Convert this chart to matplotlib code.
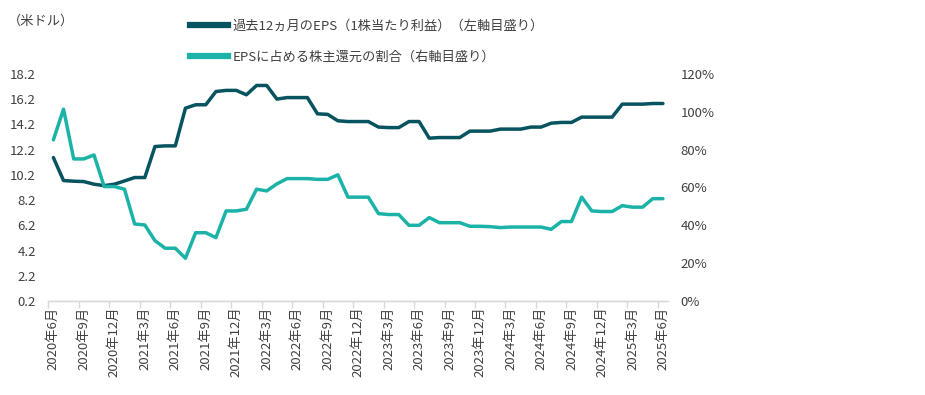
import matplotlib
matplotlib.use('Agg')
import matplotlib.pyplot as plt
from matplotlib.lines import Line2D

plt.rcParams['font.family'] = ['Noto Sans CJK JP', 'DejaVu Sans']

# ---- data (monthly, 2020年6月 .. 2025年6月) ----
n_months = 61
tick_labels = ["2020年6月", "2020年9月", "2020年12月", "2021年3月", "2021年6月", "2021年9月",
               "2021年12月", "2022年3月", "2022年6月", "2022年9月", "2022年12月", "2023年3月",
               "2023年6月", "2023年9月", "2023年12月", "2024年3月", "2024年6月", "2024年9月",
               "2024年12月", "2025年3月", "2025年6月"]

eps = [11.57, 9.75, 9.70, 9.67, 9.46, 9.35, 9.46, 9.72, 9.99, 9.99,
       12.45, 12.50, 12.50, 15.49, 15.76, 15.76, 16.81, 16.90, 16.90, 16.55,
       17.29, 17.29, 16.21, 16.33, 16.33, 16.33, 15.04, 15.00, 14.49, 14.43,
       14.43, 14.43, 13.99, 13.95, 13.95, 14.43, 14.43, 13.11, 13.16, 13.16,
       13.16, 13.67, 13.67, 13.67, 13.83, 13.83, 13.83, 13.99, 13.99, 14.30,
       14.36, 14.36, 14.78, 14.78, 14.78, 14.78, 15.81, 15.81, 15.81, 15.86,
       15.86]

share = [85.2, 101.4, 75.1, 75.1, 77.2, 60.5, 60.5, 59.1, 40.7, 40.2,
         31.9, 27.9, 27.9, 22.6, 36.1, 36.1, 33.5, 47.6, 47.6, 48.5,
         59.1, 58.2, 61.9, 64.7, 64.7, 64.7, 64.3, 64.3, 66.7, 54.9,
         54.9, 54.9, 46.2, 45.7, 45.7, 40.0, 40.0, 44.1, 41.4, 41.4,
         41.4, 39.5, 39.5, 39.3, 38.8, 39.1, 39.1, 39.1, 39.1, 37.9,
         42.0, 42.0, 54.9, 47.6, 47.3, 47.3, 50.4, 49.6, 49.6, 54.1,
         54.1]

left_ticks = [0.2, 2.2, 4.2, 6.2, 8.2, 10.2, 12.2, 14.2, 16.2, 18.2]
right_ticks = [0, 20, 40, 60, 80, 100, 120]

label_eps = "過去12ヵ月のEPS（1株当たり利益）（左軸目盛り）"
label_share = "EPSに占める株主還元の割合（右軸目盛り）"
unit_label = "（米ドル）"

# ---- style ----
c_dark = "#07535F"
c_teal = "#1BB3A8"
c_text = "#404040"
c_axis = "#D9D9D9"
fs = 9.5

fig = plt.figure(figsize=(9.25, 3.95), dpi=100)
W, H = 925, 395
ax = fig.add_axes([48.3 / W, 1 - 301 / H, (668 - 48.3) / W, (301 - 74) / H])
ax2 = ax.twinx()

x = list(range(n_months))
ax.plot(x, eps, color=c_dark, lw=2.5, solid_capstyle='round', solid_joinstyle='round')
ax2.plot(x, share, color=c_teal, lw=2.5, solid_capstyle='round', solid_joinstyle='round')

ax.set_xlim(-0.5, n_months - 0.5)
ax.set_ylim(0.2, 18.2)
ax2.set_ylim(0, 120)

ax.set_yticks(left_ticks)
ax.set_yticklabels([f"{v:.1f}" for v in left_ticks])
ax2.set_yticks(right_ticks)
ax2.set_yticklabels([f"{v}%" for v in right_ticks])

ax.set_xticks(list(range(0, n_months, 3)))
ax.set_xticklabels(tick_labels, rotation=90, va='top', ha='center')
ax.set_xticks([k - 0.5 for k in range(0, n_months, 3)], minor=True)

for a in (ax, ax2):
    for s in ('top', 'left', 'right'):
        a.spines[s].set_visible(False)
    a.spines['bottom'].set_color(c_axis)
    a.spines['bottom'].set_linewidth(1.0)

ax.tick_params(axis='x', which='major', length=0, pad=4, labelsize=fs, colors=c_text)
ax.tick_params(axis='x', which='minor', length=5, width=1, color=c_axis, direction='out')
ax.tick_params(axis='y', length=0, pad=9, labelsize=fs, colors=c_text)
ax2.tick_params(axis='y', length=0, pad=9, labelsize=fs, colors=c_text)

fig.text(8 / W, 1 - 21 / H, unit_label, fontsize=fs, color=c_text, va='center', ha='left')

handles = [Line2D([], [], color=c_dark, lw=4.5), Line2D([], [], color=c_teal, lw=4.5)]
fig.legend(handles, [label_eps, label_share], loc='upper left',
           bbox_to_anchor=(190 / W, 1 - 20 / H), frameon=False, borderpad=0,
           borderaxespad=0, handlelength=2.9, handletextpad=0.3, labelspacing=1.35,
           prop={'size': fs}, labelcolor=c_text)

fig.savefig("out.png", dpi=100)
